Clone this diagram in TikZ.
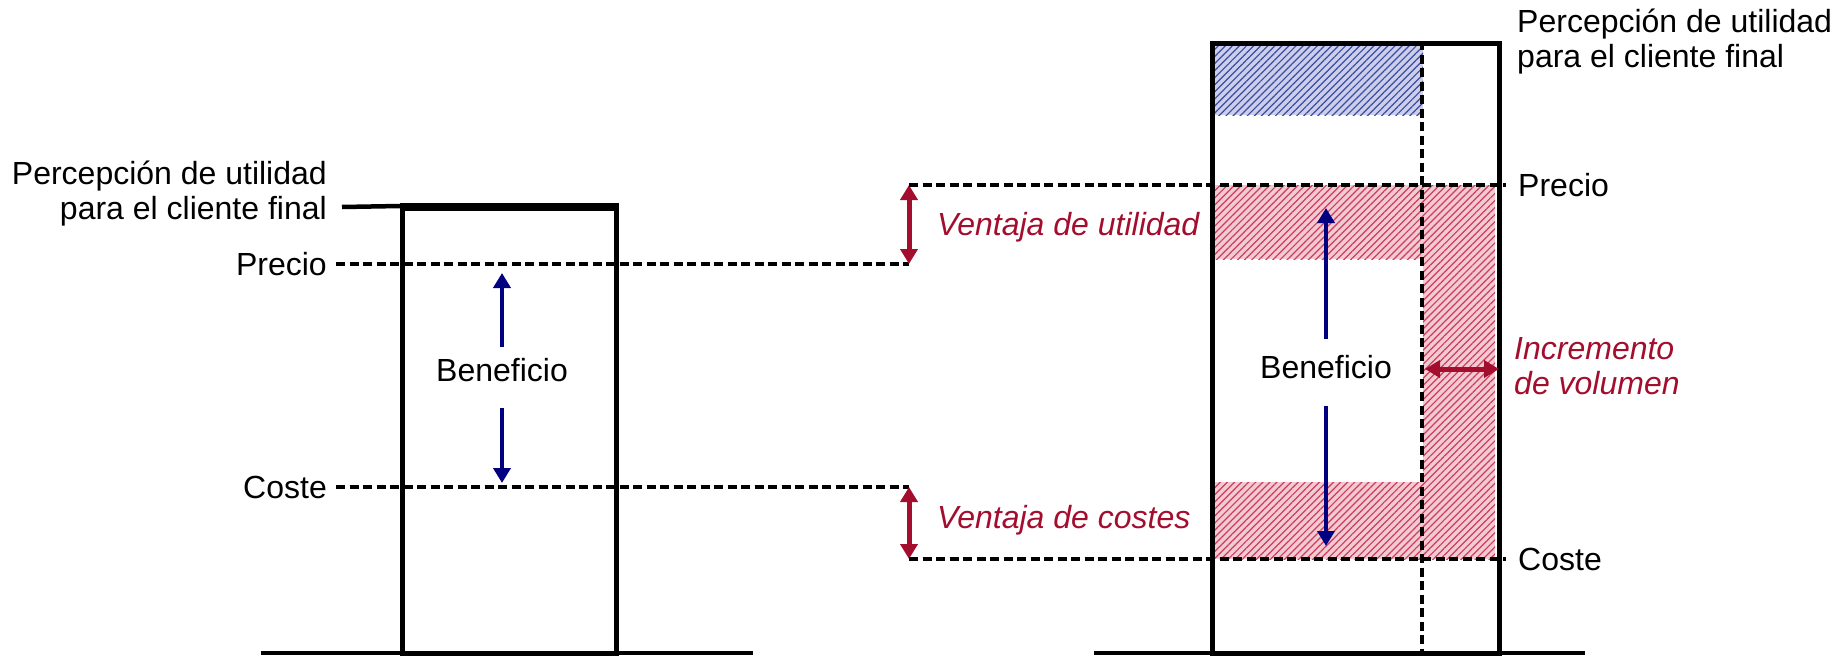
\documentclass[tikz,border=0pt]{standalone}
\usepackage{fontspec}
\setmainfont{Liberation Sans}
\usetikzlibrary{arrows.meta, patterns.meta, positioning}

\definecolor{wine}{HTML}{A30D2E}
\definecolor{navyblue}{HTML}{000080}
\definecolor{pinkfill}{HTML}{F3CAD3}
\definecolor{pinkline}{HTML}{CC3D5A}
\definecolor{bluefill}{HTML}{CCCEEA}
\definecolor{blueline}{HTML}{3A4CA3}

\begin{document}
\begin{tikzpicture}[
    x=1pt, y=-1pt,
    every node/.style={font=\fontsize{32}{35}\selectfont, inner sep=0pt},
    colbox/.style={draw, line width=4.5pt, anchor=north west},
    floorline/.style={line width=4.5pt},
    refline/.style={line width=4pt, dash pattern=on 9pt off 4.5pt},
    benefit/.style={navyblue, line width=4pt, -{Triangle[length=15pt, width=17pt]}},
    gain/.style={wine, line width=5pt, {Triangle[length=15pt, width=17pt]}-{Triangle[length=15pt, width=17pt]}},
    gaintext/.style={wine, font=\itshape\fontsize{32}{35}\selectfont, align=left, anchor=west},
    redhatch/.style={fill=pinkfill, postaction={pattern={Lines[angle=45, distance=5pt, line width=1.2pt]}, pattern color=pinkline}},
    bluehatch/.style={fill=bluefill, postaction={pattern={Lines[angle=45, distance=5pt, line width=1.2pt]}, pattern color=blueline}}
]
    \useasboundingbox (0,0) rectangle (1845,656);

    % Levels shared by both columns
    \coordinate (ptop) at (909,185);
    \coordinate (plow) at (909,264);
    \coordinate (ctop) at (909,487);
    \coordinate (clow) at (909,559);

    % Left column
    \draw[floorline] (261,653) -- (753,653);
    \node[colbox, minimum width=214pt, minimum height=447pt] (lbar) at (400,206) {};
    \draw[line width=7pt] (lbar.north west) -- (lbar.north east);
    \node[anchor=east, align=right] (lperc) at (327,194) {Percepción de utilidad\\para el cliente final};
    \coordinate (lperctip) at (342,207);
    \draw[floorline] (lperctip) -- (lbar.north west);
    \node[anchor=east] (lprecio) at (327,264) {Precio};
    \node[anchor=east] (lcoste) at (327,487) {Coste};
    \draw[refline] ([xshift=9pt]lprecio.east) -- (plow);
    \draw[refline] ([xshift=9pt]lcoste.east) -- (ctop);

    % Left profit
    \node (lben) at (502,370) {Beneficio};
    \coordinate (lup) at (502,273);
    \coordinate (ldown) at (502,483);
    \draw[benefit, shorten <=11pt] (lben) -- (lup);
    \draw[benefit, shorten <=26pt] (lben) -- (ldown);

    % Advantages
    \draw[gain] (ptop) -- (plow);
    \draw[gain] (ctop) -- (clow);
    \node[gaintext] (vutil) at (937,227) {Ventaja de utilidad};
    \node[gaintext] (vcost) at (937,520) {Ventaja de costes};

    % Right column
    \fill[bluehatch] (1212,43) rectangle (1423,115);
    \fill[redhatch] (1212,185) rectangle (1423,259);
    \fill[redhatch] (1423,185) rectangle (1495,559);
    \fill[redhatch] (1212,482) rectangle (1423,559);
    \draw[floorline] (1094,653) -- (1585,653);
    \draw[refline] (1422,41) -- (1422,653);
    \node[colbox, minimum width=287pt, minimum height=612pt] (rbar) at (1210,41) {};
    \node[anchor=west, align=left] (rperc) at (1517,42) {Percepción de utilidad\\para el cliente final};
    \node[anchor=west] (rprecio) at (1518,185) {Precio};
    \node[anchor=west] (rcoste) at (1518,559) {Coste};
    \draw[refline] (ptop) -- ([xshift=-12pt]rprecio.west);
    \draw[refline] (clow) -- ([xshift=-12pt]rcoste.west);

    % Right profit
    \node (rben) at (1326,367) {Beneficio};
    \coordinate (rup) at (1326,208);
    \coordinate (rdown) at (1326,546);
    \draw[benefit, shorten <=16pt] (rben) -- (rup);
    \draw[benefit, shorten <=27pt] (rben) -- (rdown);

    % Volume
    \coordinate (volleft) at (1425,369);
    \coordinate (volright) at (1499,369);
    \draw[gain] (volleft) -- (volright);
    \node[gaintext] (vvol) at (1514,366) {Incremento\\de volumen};
\end{tikzpicture}
\end{document}
